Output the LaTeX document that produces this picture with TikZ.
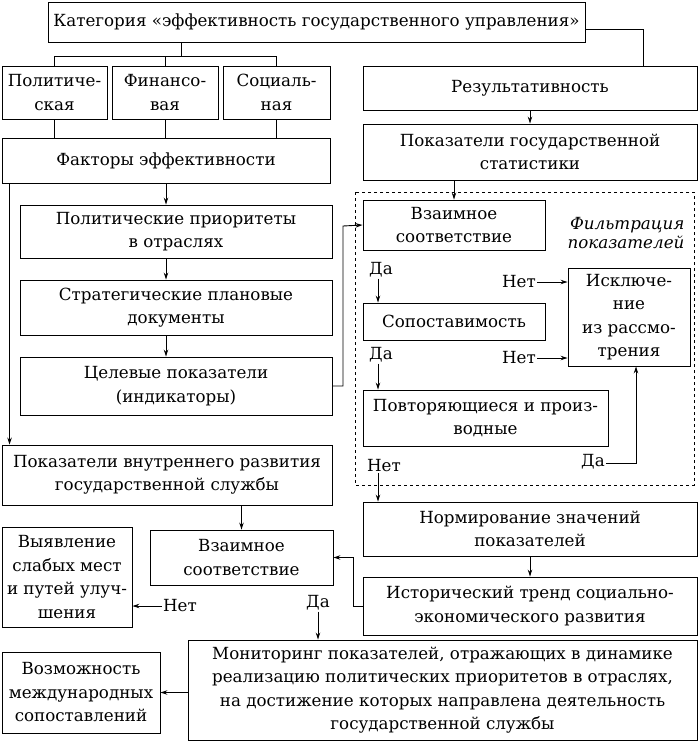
\documentclass[tikz,border=0pt]{standalone}
\usepackage{fontspec}
\setmainfont{DejaVu Serif}
\usepackage{tikz}
\usetikzlibrary{arrows.meta}

\tikzset{
  blok/.style={draw, line width=0.9pt, align=center, inner sep=0pt,
    font=\fontsize{16.7}{23.5}\selectfont},
  metka/.style={inner sep=1pt, font=\fontsize{16.7}{23.5}\selectfont},
  svyaz/.style={line width=0.9pt},
}

\begin{document}
\begin{tikzpicture}[x=1pt, y=-1pt, >={Stealth[length=7pt,width=4.5pt]}]
	\useasboundingbox (0,0) rectangle (698,742);

	% verkhnij uroven
	\node[blok, minimum width=537, minimum height=40] (kat) at (316.5,22.5)
		{Категория «эффективность государственного управления»};
	\node[blok, minimum width=105, minimum height=53] (pol) at (54.5,92.5) {Политиче-\\ская};
	\node[blok, minimum width=106, minimum height=53] (fin) at (165,92.5) {Финансо-\\вая};
	\node[blok, minimum width=107, minimum height=53] (soc) at (276.5,92.5) {Социаль-\\ная};
	\node[blok, minimum width=328, minimum height=45] (fakt) at (166,160.5) {Факторы эффективности};

	% levaya kolonka
	\node[blok, minimum width=312, minimum height=53] (prior) at (176,231.5) {Политические приоритеты\\в отраслях};
	\node[blok, minimum width=312, minimum height=55] (strat) at (176,307.5) {Стратегические плановые\\документы};
	\node[blok, minimum width=312, minimum height=58] (cel) at (176,386) {Целевые показатели\\(индикаторы)};
	\node[blok, minimum width=330, minimum height=60] (vnutr) at (167,475) {Показатели внутреннего развития\\государственной службы};
	\node[blok, minimum width=183, minimum height=55] (vz2) at (241.5,557.5) {Взаимное\\соответствие};
	\node[blok, minimum width=130, minimum height=100] (vyyav) at (67,577) {Выявление\\слабых мест\\и путей улуч-\\шения};
	\node[blok, minimum width=509, minimum height=100] (mon) at (442.5,690)
		{Мониторинг показателей, отражающих в динамике\\реализацию политических приоритетов в отраслях,\\на достижение которых направлена деятельность\\государственной службы};
	\node[blok, minimum width=158, minimum height=81] (vozm) at (81,692.5) {Возможность\\международных\\сопоставлений};

	% pravaya kolonka
	\node[blok, minimum width=334, minimum height=44] (rez) at (530,88) {Результативность};
	\node[blok, minimum width=334, minimum height=56] (stat) at (530,152) {Показатели государственной\\статистики};
	\draw[svyaz, dashed] (355,192) rectangle (694,485);
	\node[metka, align=right, font=\fontsize{16.7}{19}\itshape] (filtr) at (626,233) {Фильтрация\\показателей};
	\node[blok, minimum width=182, minimum height=50] (vz1) at (454,225) {Взаимное\\соответствие};
	\node[blok, minimum width=182, minimum height=37] (sop) at (454,321.5) {Сопоставимость};
	\node[blok, minimum width=245, minimum height=56] (povt) at (485.5,418) {Повторяющиеся и произ-\\водные};
	\node[blok, minimum width=122, minimum height=98] (iskl) at (629,317) {Исключе-\\ние\\из рассмо-\\трения};
	\node[blok, minimum width=334, minimum height=54] (norm) at (530,529) {Нормирование значений\\показателей};
	\node[blok, minimum width=334, minimum height=58] (ist) at (530,606) {Исторический тренд социально-\\экономического развития};

	% metki
	\node[metka] (da1) at (381,270) {Да};
	\node[metka] (da2) at (381,355) {Да};
	\node[metka] (net1) at (519,282) {Нет};
	\node[metka] (net2) at (519,358) {Нет};
	\node[metka] (net3) at (384,466) {Нет};
	\node[metka] (da3) at (593,462) {Да};
	\node[metka] (net4) at (180,606) {Нет};
	\node[metka] (da4) at (318,603) {Да};

	% svyazi
	\coordinate (razv) at (181,56);
	\draw[svyaz] (kat.south -| razv) -- (razv);
	\draw[svyaz] (pol.north) |- (soc.north |- razv) -- (soc.north);
	\draw[svyaz] (fin.north) -- (fin.north |- razv);
	\foreach \b in {pol,fin,soc}
		\draw[svyaz] (\b.south) -- (\b.south |- fakt.north);
	\coordinate (povorot) at (643,29);
	\draw[svyaz] (kat.east |- povorot) -| (povorot |- rez.north);

	\draw[svyaz,->] (fakt.south) -- (fakt.south |- prior.north);
	\draw[svyaz,->] (prior.south -| fakt.south) -- (strat.north -| fakt.south);
	\draw[svyaz,->] (strat.south -| fakt.south) -- (cel.north -| fakt.south);
	\draw[svyaz,->] ([xshift=8pt]fakt.south west) -- ([xshift=8pt]fakt.south west |- vnutr.north);
	\draw[svyaz,->] (cel.east) -| (343,226) -- (vz1.west);
	\draw[svyaz,->] (vnutr.south -| vz2.north) -- (vz2.north);
	\draw[svyaz,->] (net4.west) -- (net4.west -| vyyav.east);
	\draw[svyaz,->] (da4.south) -- (da4.south |- mon.north);
	\draw[svyaz,->] (mon.west |- vozm.east) -- (vozm.east);

	\draw[svyaz,->] (rez.south) -- (stat.north);
	\draw[svyaz,->] (stat.south -| vz1.north) -- (vz1.north);
	\draw[svyaz,->] ([xshift=-3pt]da1.south) -- ([xshift=-3pt]da1.south |- sop.north);
	\draw[svyaz,->] ([xshift=-3pt]da2.south) -- ([xshift=-3pt]da2.south |- povt.north);
	\draw[svyaz,->] ([xshift=-6pt]net3.south) -- ([xshift=-6pt]net3.south |- norm.north);
	\draw[svyaz,->] (net1.east) -- (net1.east -| iskl.west);
	\draw[svyaz,->] (net2.east) -- (net2.east -| iskl.west);
	\coordinate (vverkh) at (636,463);
	\draw[svyaz,->] (da3.east |- vverkh) -- (vverkh) -- (vverkh |- iskl.south);
	\draw[svyaz,->] (norm.south) -- (ist.north);
	\draw[svyaz,->] (ist.west) -- (353,606) |- (vz2.east);
\end{tikzpicture}
\end{document}
